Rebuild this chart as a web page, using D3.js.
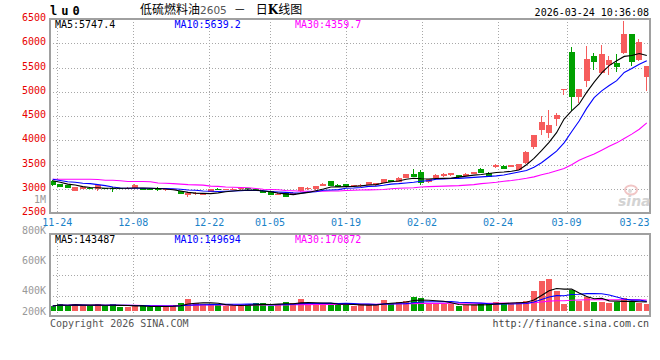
<!DOCTYPE html>
<html><head><meta charset="utf-8">
<script src="https://cdn.jsdelivr.net/npm/d3@7"></script>
<style>body{margin:0;background:#fff}svg{display:block}</style>
</head><body><svg id="c" width="660" height="360"></svg>
<script>
const dates = ["11-21","11-24","11-25","11-26","11-27","11-28","12-01","12-02","12-03","12-04","12-05","12-08","12-09","12-10","12-11","12-12","12-15","12-16","12-17","12-18","12-19","12-22","12-23","12-24","12-25","12-26","12-29","12-30","12-31","01-05","01-06","01-07","01-08","01-09","01-12","01-13","01-14","01-15","01-16","01-19","01-20","01-21","01-22","01-23","01-26","01-27","01-28","01-29","01-30","02-02","02-03","02-04","02-05","02-06","02-09","02-10","02-11","02-12","02-13","02-24","02-25","02-26","02-27","03-02","03-03","03-04","03-05","03-06","03-09","03-10","03-11","03-12","03-13","03-16","03-17","03-18","03-19","03-20","03-23","03-24"];
const open = [3166,3098,3077,2966,3001,3028,3000,3025,3015,3015,3010,3015,3028,3010,3012,2975,2985,2960,2885,2900,2880,2940,3005,2995,2995,3000,3015,3005,2965,2950,2895,2912,2877,2950,3000,2990,3063,3166,3077,3098,3056,3063,3090,3077,3125,3187,3152,3228,3310,3340,3140,3225,3268,3283,3283,3265,3310,3407,3337,3445,3480,3448,3400,3540,3861,4218,4150,4444,5042,5812,4904,5214,5743,5387,5544,5593,5799,6191,5661,5296];
const high = [3180,3105,3085,3045,3040,3035,3085,3030,3048,3025,3035,3095,3030,3015,3040,2995,3000,2965,2940,2940,2920,3000,3020,3010,3015,3040,3020,3025,2970,2955,2915,2915,2935,3040,3040,3070,3125,3175,3095,3105,3090,3110,3150,3130,3215,3195,3240,3315,3413,3400,3210,3300,3330,3330,3290,3320,3360,3440,3340,3510,3485,3495,3520,3775,4120,4506,4630,4562,5065,5915,5065,5935,5799,5970,5729,5779,6451,6200,6094,5540];
const low = [3070,3035,3020,2960,2995,3000,2960,3005,2945,3000,3005,3010,2980,2970,2950,2950,2980,2900,2830,2870,2875,2935,2985,2990,2990,2985,2985,2990,2920,2870,2890,2835,2870,2940,2985,2985,3060,3060,3035,3060,3050,3040,3085,3070,3120,3145,3145,3220,3240,3090,3130,3215,3250,3275,3235,3260,3305,3330,3250,3440,3420,3445,3390,3520,3826,4115,4047,4290,4939,4616,4768,5090,5440,5372,5352,5407,5785,5523,5626,5022];
const close = [3077,3042,3028,3036,3036,3005,3075,3010,3010,3005,3030,3090,2987,2990,2975,2990,2995,2905,2912,2920,2915,2995,2990,3005,3010,3020,2990,2995,2925,2885,2905,2842,2925,3036,3025,3063,3104,3063,3042,3063,3083,3090,3145,3125,3207,3152,3234,3310,3248,3115,3200,3295,3310,3325,3242,3315,3352,3337,3255,3500,3420,3490,3512,3770,4115,4389,4321,4527,5063,4904,5063,5682,5605,5770,5661,5502,6197,5605,6018,5537];
const ma5 = [3170,3140,3100,3083,3049,3030,3025,3015,3015,3015,3015,3020,3020,3015,3010,3000,2985,2960,2930,2915,2910,2905,2920,2945,2960,2975,2980,2975,2960,2945,2915,2900,2885,2910,2930,2965,3000,3040,3045,3049,3055,3065,3083,3090,3125,3150,3166,3200,3222,3210,3207,3215,3220,3225,3245,3265,3285,3300,3320,3340,3350,3365,3390,3500,3630,3790,3960,4160,4440,4610,4750,4990,5200,5390,5540,5640,5730,5750,5790,5747];
const ma10 = [3200,3175,3150,3140,3118,3110,3090,3070,3040,3020,3015,3015,3015,3015,3012,3010,3005,2995,2980,2975,2960,2955,2950,2955,2960,2965,2975,2970,2965,2950,2940,2930,2920,2915,2935,2945,2975,2980,2987,3015,3020,3030,3055,3060,3077,3100,3110,3125,3140,3160,3172,3200,3205,3215,3220,3230,3240,3250,3260,3270,3290,3320,3350,3380,3450,3540,3660,3780,3950,4180,4400,4660,4880,5020,5130,5230,5400,5480,5570,5640];
const ma30 = [3200,3200,3200,3200,3200,3200,3195,3180,3180,3170,3155,3155,3155,3150,3125,3120,3110,3100,3090,3085,3080,3060,3055,3040,3035,3030,3025,3010,2995,2990,2985,2970,2965,2955,2955,2955,2955,2958,2960,2970,2975,2980,2982,2985,2990,3005,3015,3020,3025,3040,3050,3055,3060,3065,3070,3080,3090,3110,3125,3140,3160,3175,3195,3220,3250,3295,3330,3375,3420,3500,3590,3660,3720,3800,3880,3950,4040,4130,4230,4360];
const volume = [76000,108000,81000,108000,76000,76000,108000,76000,108000,64000,64000,76000,76000,53000,64000,69000,92000,124000,188000,124000,101000,92000,92000,81000,76000,76000,108000,124000,124000,69000,108000,140000,124000,188000,92000,92000,124000,124000,92000,92000,69000,92000,101000,108000,172000,124000,140000,156000,225000,209000,108000,108000,108000,108000,69000,92000,92000,108000,124000,134000,124000,124000,140000,156000,317000,483000,510000,317000,108000,333000,156000,225000,140000,145000,124000,140000,198000,140000,124000,108000];
const priceTicks = [2500,3000,3500,4000,4500,5000,5500,6000,6500];
const volTicks = [1000000,800000,600000,400000,200000];
const volTickLabels = ["1M","800K","600K","400K","200K"];
const xTickDates = ["11-24","12-08","12-22","01-05","01-19","02-02","02-24","03-09","03-23"];
const legendPrice = [["MA5:5747.4","#000"],["MA10:5639.2","#0000ff"],["MA30:4359.7","#ff00ff"]];
const legendVol = [["MA5:143487","#000"],["MA10:149694","#0000ff"],["MA30:170872","#ff00ff"]];

const svg = d3.select("#c");
const MONO = "'DejaVu Sans Mono', monospace";
const RED = "#f65c5c", GREEN = "#00a000", GRID = "#a8a8a8", FRAME = "#a0a0a0";
const L = 50, R = 649.5, T = 19, B = 213.3, VT = 234, VB = 316, VBASE = 310.7;
const n = dates.length;
const idx = d3.range(n);
const x = d3.scaleLinear().domain([0, n - 1]).range([52.7, 646.8]);
const gx = d3.scaleLinear().domain([1, 78]).range([57.3, 642.5]);
const y = d3.scaleLinear().domain([2500, 6500]).range([B, T]);
const vy = d3.scaleLinear().domain([0, 1235000]).range([VBASE, VT]);
const vlabelY = d3.scaleLinear().domain([400000, 800000]).range([290.7, 230]);
const up = i => close[i] >= open[i];

// grids
const g = svg.append("g").attr("shape-rendering", "crispEdges");
const gridIdx = xTickDates.slice(0, -1).map(d => dates.indexOf(d));
g.selectAll(".vg").data(gridIdx).join("line")
  .attr("x1", i => Math.round(gx(i)) + 0.5).attr("x2", i => Math.round(gx(i)) + 0.5)
  .attr("y1", T).attr("y2", B).attr("stroke", GRID).attr("stroke-dasharray", "1,2");
g.selectAll(".vg2").data(gridIdx).join("line")
  .attr("x1", i => Math.round(gx(i)) + 0.5).attr("x2", i => Math.round(gx(i)) + 0.5)
  .attr("y1", VT).attr("y2", VB).attr("stroke", GRID).attr("stroke-dasharray", "1,2");
g.selectAll(".hg").data(priceTicks.slice(1, -1)).join("line")
  .attr("x1", L).attr("x2", R).attr("y1", d => Math.round(y(d)) + 0.5).attr("y2", d => Math.round(y(d)) + 0.5)
  .attr("stroke", GRID).attr("stroke-dasharray", "1,2");
const vGrid = d3.range(1, 4).map(k => VT + (VB - VT) * k / 4);
g.selectAll(".vhg").data(vGrid).join("line")
  .attr("x1", L).attr("x2", R).attr("y1", d => Math.round(d) + 0.5).attr("y2", d => Math.round(d) + 0.5)
  .attr("stroke", GRID).attr("stroke-dasharray", "1,2");

// candles
const c = svg.append("g").attr("shape-rendering", "crispEdges");
c.selectAll(".wick").data(idx).join("line")
  .attr("x1", i => Math.round(x(i) - 3) + 2.5).attr("x2", i => Math.round(x(i) - 3) + 2.5)
  .attr("y1", i => y(high[i])).attr("y2", i => y(low[i]))
  .attr("stroke", i => up(i) ? RED : GREEN);
c.selectAll(".body").data(idx).join("rect")
  .attr("x", i => Math.round(x(i) - 3)).attr("width", 6)
  .attr("y", i => y(Math.max(open[i], close[i])))
  .attr("height", i => Math.max(1, y(Math.min(open[i], close[i])) - y(Math.max(open[i], close[i]))))
  .attr("fill", i => up(i) ? RED : GREEN);

// MA lines
const line = arr => d3.line().x((d, i) => x(i)).y(d => y(d))(arr);
[[ma30, "#ff00ff"], [ma10, "#0000ff"], [ma5, "#000"]].forEach(([a, col]) => {
  svg.append("path").attr("d", line(a)).attr("fill", "none").attr("stroke", col).attr("stroke-width", 1.1);
});

// volume bars
svg.append("g").attr("shape-rendering", "crispEdges").selectAll("rect").data(idx).join("rect")
  .attr("x", i => Math.round(x(i) - 3)).attr("width", 6)
  .attr("y", i => vy(volume[i])).attr("height", i => VBASE - vy(volume[i]))
  .attr("fill", i => up(i) ? RED : GREEN);
const movAvg = (arr, w) => arr.map((d, i) => d3.mean(arr.slice(Math.max(0, i - w + 1), i + 1)));
const vline = arr => d3.line().x((d, i) => x(i)).y(d => vy(d))(arr);
[[movAvg(volume, 30), "#ff00ff"], [movAvg(volume, 10), "#0000ff"], [movAvg(volume, 5), "#000"]].forEach(([a, col]) => {
  svg.append("path").attr("d", vline(a)).attr("fill", "none").attr("stroke", col).attr("stroke-width", 1.1);
});

// frames
const f = svg.append("g").attr("fill", "none").attr("stroke", FRAME).attr("stroke-width", 2).attr("shape-rendering", "crispEdges");
f.append("rect").attr("x", L).attr("y", T).attr("width", R - L).attr("height", B - T);
f.append("rect").attr("x", L).attr("y", VT).attr("width", R - L).attr("height", VB - VT);

// axis labels
svg.append("g").selectAll("text").data(priceTicks).join("text")
  .attr("x", 46).attr("y", d => y(d) - 1.5).attr("dy", "0.35em").attr("text-anchor", "end")
  .attr("font-family", MONO).attr("font-size", 10).attr("fill", "#e80000").text(d => d);
svg.append("g").selectAll("text").data(volTicks).join("text")
  .attr("x", 46).attr("y", d => Math.min(311, vlabelY(d))).attr("dy", "0.35em").attr("text-anchor", "end")
  .attr("font-family", MONO).attr("font-size", 10).attr("fill", "#999").text((d, i) => volTickLabels[i]);
svg.append("g").selectAll("text").data(xTickDates).join("text")
  .attr("x", (d, i) => i === xTickDates.length - 1 ? R : gx(dates.indexOf(d)))
  .attr("y", 222).attr("dy", "0.35em")
  .attr("text-anchor", (d, i) => i === xTickDates.length - 1 ? "end" : "middle")
  .attr("font-family", MONO).attr("font-size", 10).attr("fill", "#1a82c8").text(d => d);

// legends
const legX = [55, 174.5, 295];
svg.append("g").selectAll("text").data(legendPrice).join("text")
  .attr("x", (d, i) => legX[i]).attr("y", 24).attr("dy", "0.35em")
  .attr("font-family", MONO).attr("font-size", 10).attr("fill", d => d[1]).text(d => d[0]);
svg.append("g").selectAll("text").data(legendVol).join("text")
  .attr("x", (d, i) => legX[i]).attr("y", 239).attr("dy", "0.35em")
  .attr("font-family", MONO).attr("font-size", 10).attr("fill", d => d[1]).text(d => d[0]);

// header
svg.append("text").attr("x", 50).attr("y", 11).attr("dy", "0.35em")
  .attr("font-family", "'DejaVu Sans Mono', monospace").attr("font-weight", "bold").attr("font-size", 12)
  .attr("letter-spacing", 4).attr("fill", "#000").text("lu0");
const title = svg.append("text").attr("x", 140).attr("y", 10).attr("dy", "0.35em")
  .attr("font-family", "'Noto Sans CJK SC', sans-serif").attr("font-size", 12).attr("fill", "#000");
title.append("tspan").text("低硫燃料油");
title.append("tspan").attr("font-family", "'DejaVu Sans', sans-serif").attr("font-size", 10.5).attr("fill", "#555").text("2605");
title.append("tspan").attr("dx", 7).text("－");
title.append("tspan").attr("dx", 10).text("日");
title.append("tspan").attr("font-family", "'DejaVu Serif', serif").attr("font-weight", "bold").text("K");
title.append("tspan").text("线图");
svg.append("text").attr("x", 649).attr("y", 12).attr("dy", "0.35em").attr("text-anchor", "end")
  .attr("font-family", MONO).attr("font-size", 10).attr("fill", "#000").text("2026-03-24 10:36:08");

// footer
svg.append("text").attr("x", 50).attr("y", 323.5).attr("dy", "0.35em")
  .attr("font-family", MONO).attr("font-size", 10).attr("fill", "#555").text("Copyright 2026 SINA.COM");
svg.append("text").attr("x", 649).attr("y", 323.5).attr("dy", "0.35em").attr("text-anchor", "end")
  .attr("font-family", MONO).attr("font-size", 10).attr("fill", "#444").text("http://finance.sina.com.cn");

// watermark
const wm = svg.append("g").attr("opacity", 0.9);
wm.append("ellipse").attr("cx", 631).attr("cy", 190).attr("rx", 6).attr("ry", 4.5).attr("fill", "none").attr("stroke", "#f0c0c0").attr("stroke-width", 2);
wm.append("circle").attr("cx", 630).attr("cy", 191).attr("r", 2).attr("fill", "#d8d8d8");
wm.append("text").attr("x", 618).attr("y", 206).attr("font-family", "'DejaVu Sans', sans-serif").attr("font-style", "italic")
  .attr("font-weight", "bold").attr("font-size", 14).attr("fill", "#cfcfcf").text("sina");
</script></body></html>
